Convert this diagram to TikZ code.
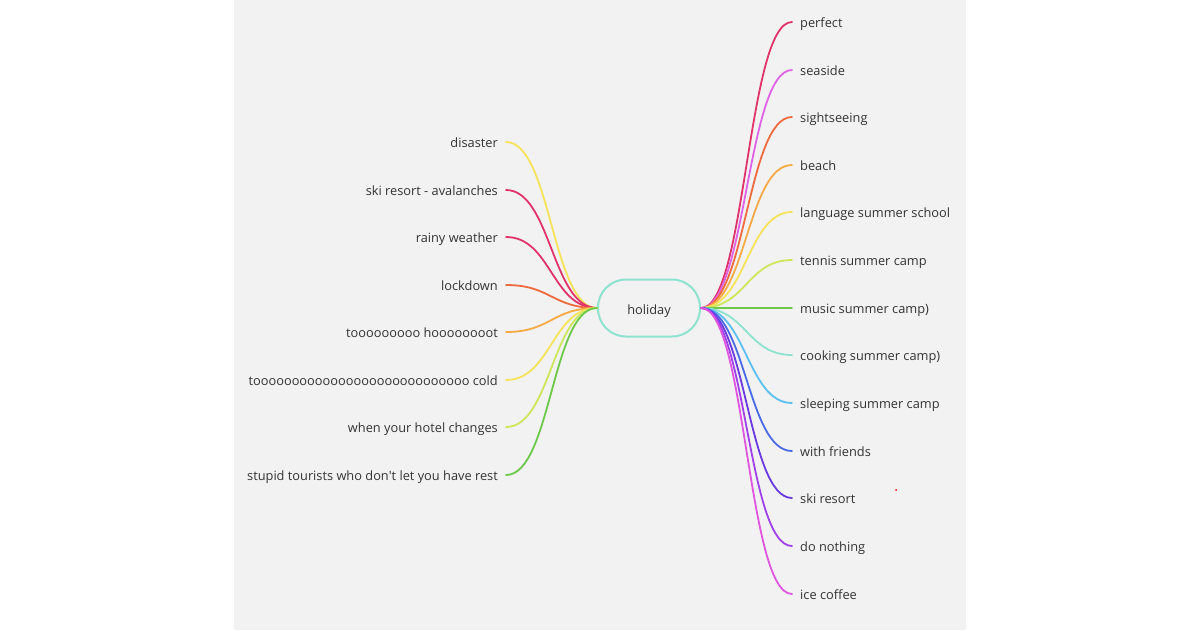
\documentclass[tikz,border=0pt]{standalone}
\usepackage{fontspec}
\setmainfont{Open Sans}
\usepackage{tikz}

\definecolor{paper}{HTML}{F2F2F2}
\definecolor{ink}{HTML}{333333}
\definecolor{crimson}{HTML}{E0336A}
\definecolor{pinkish}{HTML}{E063E6}
\definecolor{tomato}{HTML}{F06A3F}
\definecolor{amber}{HTML}{F5AA45}
\definecolor{lemon}{HTML}{F7E35A}
\definecolor{lime}{HTML}{CDE65A}
\definecolor{grass}{HTML}{6CC94A}
\definecolor{aqua}{HTML}{8EE3CF}
\definecolor{sky}{HTML}{5BC0F0}
\definecolor{royal}{HTML}{4A6AE8}
\definecolor{violet}{HTML}{6A3AE0}
\definecolor{grape}{HTML}{A040E8}
\definecolor{orchid}{HTML}{E055E0}

\begin{document}
\begin{tikzpicture}[x=1pt,y=-1pt,
	font=\fontsize{12.8}{15}\selectfont,text=ink,
	topic/.style={draw=aqua,line width=2pt,rounded corners=28pt,minimum width=102pt,minimum height=57pt,inner sep=0pt,text height=14pt,text depth=1pt},
	rleaf/.style={anchor=west,inner xsep=8pt,inner ysep=0pt,text height=12pt,text depth=1pt},
	lleaf/.style={anchor=east,inner xsep=8pt,inner ysep=0pt,text height=12pt,text depth=1pt},
	branch/.style={line width=1.8pt,line cap=round,out=0,in=180,distance=45pt}]
	\fill[white] (0,0) rectangle (1200,630);
	\fill[paper] (234,0) rectangle (966,630);

	\node[topic] (holiday) at (649,308) {holiday};

	\node[rleaf] (perfect)     at (792,22)  {perfect};
	\node[rleaf] (seaside)     at (792,70)  {seaside};
	\node[rleaf] (sightseeing) at (792,117) {sightseeing};
	\node[rleaf] (beach)       at (792,165) {beach};
	\node[rleaf] (language)    at (792,212) {language summer school};
	\node[rleaf] (tennis)      at (792,260) {tennis summer camp};
	\node[rleaf] (music)       at (792,308) {music summer camp)};
	\node[rleaf] (cooking)     at (792,355) {cooking summer camp)};
	\node[rleaf] (sleeping)    at (792,403) {sleeping summer camp};
	\node[rleaf] (friends)     at (792,451) {with friends};
	\node[rleaf] (ski)         at (792,498) {ski resort};
	\node[rleaf] (nothing)     at (792,546) {do nothing};
	\node[rleaf] (coffee)      at (792,594) {ice coffee};

	\node[lleaf] (disaster)  at (506,142) {disaster};
	\node[lleaf] (avalanche) at (506,190) {ski resort - avalanches};
	\node[lleaf] (rainy)     at (506,237) {rainy weather};
	\node[lleaf] (lockdown)  at (506,285) {lockdown};
	\node[lleaf] (hot)       at (506,332) {tooooooooo hoooooooot};
	\node[lleaf] (cold)      at (506,380) {toooooooooooooooooooooooooooo cold};
	\node[lleaf] (hotel)     at (506,427) {when your hotel changes};
	\node[lleaf] (tourists)  at (506,475) {stupid tourists who don\textquotesingle t let you have rest};

	\path[-] (holiday.east) edge[branch,draw=crimson] (perfect.west);
	\path[-] (holiday.east) edge[branch,draw=pinkish] (seaside.west);
	\path[-] (holiday.east) edge[branch,draw=tomato] (sightseeing.west);
	\path[-] (holiday.east) edge[branch,draw=amber] (beach.west);
	\path[-] (holiday.east) edge[branch,draw=lemon] (language.west);
	\path[-] (holiday.east) edge[branch,draw=lime] (tennis.west);
	\path[-] (holiday.east) edge[branch,draw=grass] (music.west);
	\path[-] (holiday.east) edge[branch,draw=aqua] (cooking.west);
	\path[-] (holiday.east) edge[branch,draw=sky] (sleeping.west);
	\path[-] (holiday.east) edge[branch,draw=royal] (friends.west);
	\path[-] (holiday.east) edge[branch,draw=violet] (ski.west);
	\path[-] (holiday.east) edge[branch,draw=grape] (nothing.west);
	\path[-] (holiday.east) edge[branch,draw=orchid] (coffee.west);

	\path[-] (disaster.east) edge[branch,draw=lemon] (holiday.west);
	\path[-] (avalanche.east) edge[branch,draw=crimson] (holiday.west);
	\path[-] (rainy.east) edge[branch,draw=crimson] (holiday.west);
	\path[-] (lockdown.east) edge[branch,draw=tomato] (holiday.west);
	\path[-] (hot.east) edge[branch,draw=amber] (holiday.west);
	\path[-] (cold.east) edge[branch,draw=lemon] (holiday.west);
	\path[-] (hotel.east) edge[branch,draw=lime] (holiday.west);
	\path[-] (tourists.east) edge[branch,draw=grass] (holiday.west);

	\fill[red] (896,490) circle (1pt);
\end{tikzpicture}
\end{document}
